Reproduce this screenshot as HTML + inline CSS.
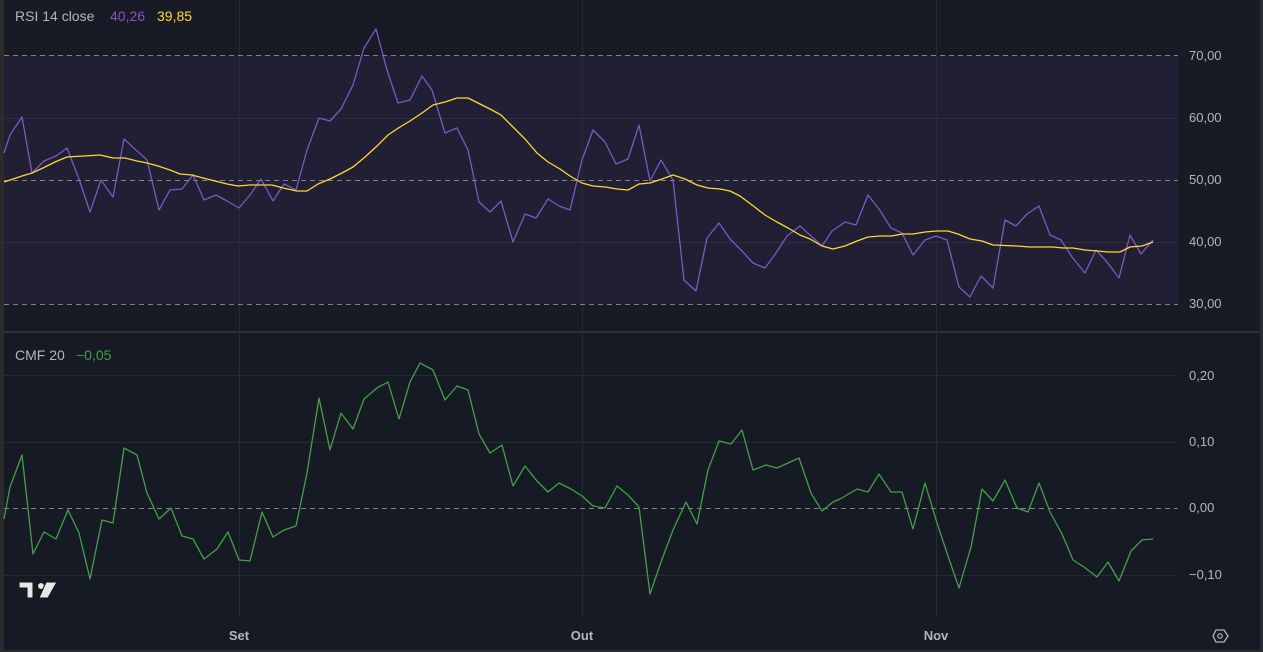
<!DOCTYPE html>
<html><head><meta charset="utf-8"><style>
html,body{margin:0;padding:0;background:#161a25;}
svg{display:block;font-family:"Liberation Sans",sans-serif;}
</style></head><body>
<svg width="1263" height="652" viewBox="0 0 1263 652" xmlns="http://www.w3.org/2000/svg">
<rect x="0" y="0" width="1263" height="652" fill="#161a25"/>
<rect x="0" y="0" width="1263" height="332" fill="#181b26"/>
<rect x="4" y="55" width="1174" height="249" fill="#211f33"/>
<!-- vertical grid -->
<g stroke="#262a36" stroke-width="1">
<line x1="239.5" y1="0" x2="239.5" y2="332"/><line x1="582.5" y1="0" x2="582.5" y2="332"/><line x1="936.5" y1="0" x2="936.5" y2="332"/>
<line x1="239.5" y1="334" x2="239.5" y2="617"/><line x1="582.5" y1="334" x2="582.5" y2="617"/><line x1="936.5" y1="334" x2="936.5" y2="617"/>
</g>
<g stroke="#2e2c42" stroke-width="1">
<line x1="4" y1="118.5" x2="1178" y2="118.5"/><line x1="4" y1="242.5" x2="1178" y2="242.5"/>
</g>
<g stroke="#80828c" stroke-width="1" stroke-dasharray="5,4">
<line x1="4" y1="55.5" x2="1178" y2="55.5"/><line x1="4" y1="180.5" x2="1178" y2="180.5"/><line x1="4" y1="304.5" x2="1178" y2="304.5"/>
<line x1="4" y1="508.5" x2="1178" y2="508.5"/>
</g>
<g stroke="#262a36" stroke-width="1">
<line x1="4" y1="375.5" x2="1178" y2="375.5"/><line x1="4" y1="442.5" x2="1178" y2="442.5"/><line x1="4" y1="575.5" x2="1178" y2="575.5"/>
</g>
<!-- separators and borders -->
<rect x="0" y="331" width="1263" height="2" fill="#2a2e39"/>
<rect x="0" y="0" width="4" height="652" fill="#2b2b2e"/>
<rect x="1260" y="0" width="3" height="652" fill="#2b2b2e"/>
<rect x="0" y="650" width="1263" height="2" fill="#2b2b2e"/>
<!-- RSI -->
<polyline fill="none" stroke="#7e57c2" stroke-width="1.3" stroke-linejoin="round" points="4,153 10,135 22,117 32,173 44,161 56,156 67,148 79,179 90,212 101,180 113,197 124,139 136,150 147,160 159,210 170,190 182,189 193,175 204,200 216,195 227,201 239,208 250,195 261,179 273,201 284,184 296,190 307,150 319,118 330,121 341,109 353,85 364,48 376,29 387,70 398,103 410,100 422,76 432,90 445,133 457,128 468,150 479,202 490,212 501,201 513,242 525,214 536,218 548,199 559,206 570,210 582,160 593,130 605,142 616,164 628,159 639,125 650,181 661,160 673,180 684,280 696,291 707,238 719,223 730,239 742,251 753,263 765,268 776,253 787,236 800,226 811,236 822,246 832,231 845,222 856,225 868,195 879,209 891,228 902,233 913,255 925,240 936,236 947,240 959,287 970,297 981,276 993,288 1005,220 1016,226 1027,214 1039,206 1050,235 1061,240 1072,257 1085,273 1096,250 1107,262 1119,278 1130,235 1141,254 1153,240"/>
<polyline fill="none" stroke="#fdd835" stroke-width="1.3" stroke-linejoin="round" points="4,182 10,180 22,176 32,173 43,168 55,162 67,157 100,155 113,158 125,158 137,161 147,163 158,166 170,170 180,174 192,175 203,178 215,181 227,184 238,186 250,185 272,185 283,188 297,191 307,191 318,184 330,179 342,173 353,167 365,157 377,146 388,135 400,127 410,121 422,113 433,105 445,102 457,98 468,98 478,103 490,109 501,115 513,127 525,139 537,153 548,162 560,169 570,176 582,183 593,186 605,187 617,189 628,190 639,184 650,183 662,179 673,175 685,179 697,185 708,188 720,189 730,191 740,196 752,205 765,215 777,222 788,228 800,235 810,239 822,246 833,249 845,246 857,241 868,237 880,236 892,236 902,234 913,234 925,232 937,231 948,231 958,234 970,239 982,241 993,245 1017,246 1030,247 1053,247 1063,248 1073,248 1085,250 1097,251 1108,252 1120,252 1130,247 1142,246 1153,242"/>
<!-- CMF -->
<polyline fill="none" stroke="#43a047" stroke-width="1.3" stroke-linejoin="round" points="4,519 10,487 22,455 33,554 44,532 56,539 68,510 79,533 90,579 102,520 113,523 124,448 137,455 147,493 159,519 171,508 182,536 193,539 204,559 217,549 228,532 239,560 250,561 262,512 273,537 284,530 296,526 307,473 319,398 330,450 341,413 353,429 364,399 377,388 388,382 399,419 410,382 420,363 433,370 445,400 457,386 468,390 479,434 490,453 502,445 513,486 525,466 537,481 548,492 559,483 571,489 582,496 593,506 605,508 617,486 628,495 639,507 650,594 661,562 673,530 686,502 697,524 708,470 719,441 731,444 742,430 753,470 766,465 777,468 788,463 799,458 811,493 822,511 833,502 840,499 857,489 868,492 879,474 891,492 902,492 913,529 925,483 937,523 948,556 959,588 971,547 982,489 993,501 1005,480 1017,508 1028,512 1039,483 1050,512 1062,534 1073,560 1084,567 1097,577 1108,562 1119,581 1131,551 1142,540 1153,539"/>
<!-- legends -->
<text x="15" y="21" font-size="14" fill="#b2b5be">RSI 14 close</text>
<text x="110" y="21" font-size="14" fill="#7e57c2">40,26</text>
<text x="157" y="21" font-size="14" fill="#fdd835">39,85</text>
<text x="15" y="360" font-size="14" fill="#b2b5be">CMF 20</text>
<text x="76" y="360" font-size="14" fill="#43a047">−0,05</text>
<!-- axis labels -->
<g font-size="13" fill="#b2b5be">
<text x="1189" y="60">70,00</text><text x="1189" y="122">60,00</text><text x="1189" y="184">50,00</text><text x="1189" y="246">40,00</text><text x="1189" y="308">30,00</text>
<text x="1189" y="380">0,20</text><text x="1189" y="446">0,10</text><text x="1189" y="512">0,00</text><text x="1189" y="579">−0,10</text>
</g>
<g font-size="13" fill="#b2b5be" font-weight="bold" text-anchor="middle">
<text x="239" y="640">Set</text><text x="582" y="640">Out</text><text x="936" y="640">Nov</text>
</g>
<!-- TV logo -->
<g fill="#e6e6e6" stroke="#111" stroke-width="1">
<path d="M19,582 h14 v16 h-6 v-10 h-8 z"/>
<circle cx="41" cy="586" r="3.5"/>
<path d="M46,582 h11 l-9,16 h-9 z"/>
</g>
<!-- settings icon -->
<polygon points="1213,636 1216,630 1224,630 1228,636 1224,642 1216,642" fill="none" stroke="#b2b5be" stroke-width="1.3"/>
<circle cx="1220" cy="636" r="2.2" fill="none" stroke="#b2b5be" stroke-width="1.2"/>
</svg>
</body></html>
